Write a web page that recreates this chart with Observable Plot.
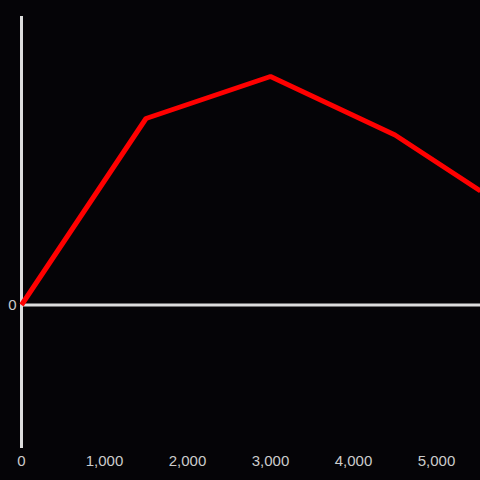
<!DOCTYPE html>
<html>
<head>
<meta charset="utf-8">
<script src="https://cdn.jsdelivr.net/npm/d3@7"></script>
<script src="https://cdn.jsdelivr.net/npm/@observablehq/plot@0.6"></script>
<style>
  html, body { margin: 0; padding: 0; background: #050407; }
  #chart { width: 480px; height: 480px; }
</style>
</head>
<body>
<div id="chart"></div>
<script>
const xValues = [0, 1500, 3000, 4500, 5530];
const yValues = [0, 1.865, 2.285, 1.70, 1.14];
const xTicks = [0, 1000, 2000, 3000, 4000, 5000];
const yTicks = [0];

const data = xValues.map((x, i) => ({x, y: yValues[i]}));

const chart = Plot.plot({
  width: 480,
  height: 480,
  marginLeft: 21,
  marginRight: 0,
  marginTop: 16,
  marginBottom: 32,
  style: {
    background: "#050407",
    color: "#cccccc",
    fontFamily: "'Liberation Sans', Arial, sans-serif",
    fontSize: "15px"
  },
  x: {domain: [0, 5530], ticks: xTicks, tickSize: 0, tickPadding: 7, tickFormat: d3.format(","), label: null},
  y: {domain: [-1.435, 2.885], ticks: yTicks, tickSize: 0, tickPadding: 5, tickFormat: d => String(d), label: null},
  marks: [
    Plot.ruleX([0], {stroke: "#dddddd", strokeWidth: 3}),
    Plot.ruleY([0], {stroke: "#dddddd", strokeWidth: 3}),
    Plot.line(data, {x: "x", y: "y", stroke: "#ff0000", strokeWidth: 5, strokeLinejoin: "miter", strokeLinecap: "butt"})
  ]
});
document.getElementById("chart").appendChild(chart);
</script>
</body>
</html>
